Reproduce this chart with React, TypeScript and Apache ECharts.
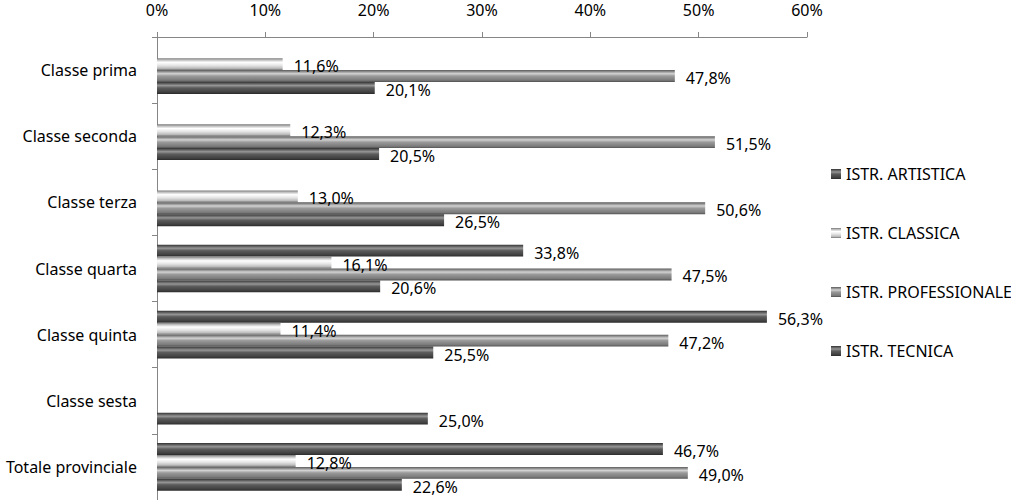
import React, { useEffect, useRef } from "react";
import * as echarts from "echarts";

const categories = [
  "Classe prima",
  "Classe seconda",
  "Classe terza",
  "Classe quarta",
  "Classe quinta",
  "Classe sesta",
  "Totale provinciale",
];
const seriesNames = ["ISTR. ARTISTICA", "ISTR. CLASSICA", "ISTR. PROFESSIONALE", "ISTR. TECNICA"];
const artistica = [null, null, null, 33.8, 56.3, null, 46.7];
const classica = [11.6, 12.3, 13.0, 16.1, 11.4, null, 12.8];
const professionale = [47.8, 51.5, 50.6, 47.5, 47.2, null, 49.0];
const tecnica = [20.1, 20.5, 26.5, 20.6, 25.5, 25.0, 22.6];
const xTicks = { min: 0, max: 60, interval: 10 };

const FONT = "Noto Sans";

const grad = (stops: [number, string][]) =>
  new echarts.graphic.LinearGradient(
    0,
    0,
    0,
    1,
    stops.map(([offset, color]) => ({ offset, color }))
  );

const darkGrad = () =>
  grad([
    [0, "#333333"],
    [0.12, "#5a5a5a"],
    [0.3, "#969696"],
    [0.5, "#5c5c5c"],
    [0.85, "#404040"],
    [1, "#2a2a2a"],
  ]);
const midGrad = () =>
  grad([
    [0, "#5a5a5a"],
    [0.12, "#8a8a8a"],
    [0.3, "#d2d2d2"],
    [0.5, "#9a9a9a"],
    [0.85, "#7a7a7a"],
    [1, "#505050"],
  ]);
const lightGrad = () =>
  grad([
    [0, "#777777"],
    [0.15, "#bdbdbd"],
    [0.35, "#ffffff"],
    [0.6, "#e6e6e6"],
    [0.85, "#bcbcbc"],
    [1, "#747474"],
  ]);

const fmt = (v: number) => v.toFixed(1).replace(".", ",") + "%";

export default function App() {
  const ref = useRef<HTMLDivElement>(null);
  useEffect(() => {
    if (!ref.current) return;
    const chart = echarts.init(ref.current, null, { renderer: "svg" });
    const dataSets = [artistica, classica, professionale, tecnica];
    const colors = [darkGrad, lightGrad, midGrad, darkGrad];
    chart.setOption({
      animation: false,
      backgroundColor: "#ffffff",
      textStyle: { fontFamily: FONT },
      grid: { left: 157, top: 37, right: 204, bottom: 0, containLabel: false },
      legend: {
        orient: "vertical",
        left: 826,
        top: 161,
        itemWidth: 10,
        itemHeight: 10,
        itemGap: 43,
        icon: "rect",
        data: seriesNames,
        textStyle: { fontFamily: FONT, fontSize: 16, color: "#000", lineHeight: 16 },
      },
      xAxis: {
        type: "value",
        position: "top",
        min: xTicks.min,
        max: xTicks.max,
        interval: xTicks.interval,
        axisLine: { show: true, lineStyle: { color: "#868686" } },
        axisTick: { show: true, length: 5, lineStyle: { color: "#868686" } },
        splitLine: { show: false },
        axisLabel: {
          formatter: "{value}%",
          fontFamily: FONT,
          fontSize: 16,
          color: "#000",
          margin: 19,
        },
      },
      yAxis: {
        type: "category",
        inverse: true,
        data: categories,
        axisLine: { show: true, lineStyle: { color: "#868686" } },
        axisTick: { show: true, length: 5, lineStyle: { color: "#868686" } },
        axisLabel: { fontFamily: FONT, fontSize: 16, color: "#000", margin: 20 },
      },
      series: seriesNames.map((name, i) => ({
        name,
        type: "bar",
        data: dataSets[i],
        barCategoryGap: "28%",
        barGap: "0%",
        itemStyle: { color: colors[i]() },
        label: {
          show: true,
          position: "right",
          distance: 11,
          offset: [0, 2],
          fontFamily: FONT,
          fontSize: 16,
          color: "#000",
          formatter: (p: any) => fmt(p.value),
        },
      })),
    });
    return () => chart.dispose();
  }, []);
  return (
    <div
      ref={ref}
      style={{ position: "fixed", left: 0, top: 0, width: 1011, height: 500 }}
    />
  );
}
